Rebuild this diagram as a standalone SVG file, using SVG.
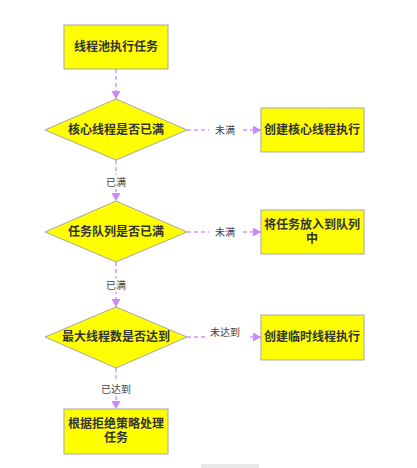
<svg xmlns="http://www.w3.org/2000/svg" width="417" height="468" viewBox="0 0 417 468">
<style>
.box{fill:#ffff00;stroke:#a6a6a6;stroke-width:1}
.t{font-family:"Liberation Sans","Noto Sans CJK SC",sans-serif;font-size:12px;font-weight:bold;fill:#333;text-anchor:middle;dominant-baseline:central}
.lbl{font-family:"Liberation Sans","Noto Sans CJK SC",sans-serif;font-size:10px;fill:#444;text-anchor:middle;dominant-baseline:central}
.e{stroke:#cc99ff;stroke-width:1.5;stroke-dasharray:4 3;fill:none}
.lb{fill:#fff}
</style>
<defs>
<marker id="a" viewBox="0 0 10 10" refX="10" refY="5" markerWidth="8" markerHeight="9" orient="auto" markerUnits="userSpaceOnUse" preserveAspectRatio="none">
<path d="M0,0 L10,5 L0,10 z" fill="#cc88ff"/>
</marker>
</defs>
<rect width="417" height="468" fill="#fff"/>
<g id="connectors">
<path class="e" d="M116,69 V99" marker-end="url(#a)"/>
<path class="e" d="M187,130 H261" marker-end="url(#a)"/>
<path class="e" d="M116,160 V201" marker-end="url(#a)"/>
<path class="e" d="M187,232 H261" marker-end="url(#a)"/>
<path class="e" d="M116,262 V307" marker-end="url(#a)"/>
<path class="e" d="M187,337 H261" marker-end="url(#a)"/>
<path class="e" d="M116,368 V409" marker-end="url(#a)"/>
<rect class="lb" x="209" y="123" width="33" height="14"/>
<text class="lbl" x="225" y="130">未满</text>
<rect class="lb" x="104" y="175" width="24" height="14"/>
<text class="lbl" x="116" y="182">已满</text>
<rect class="lb" x="209" y="225" width="33" height="14"/>
<text class="lbl" x="225" y="232">未满</text>
<rect class="lb" x="104" y="278" width="24" height="14"/>
<text class="lbl" x="116" y="285">已满</text>
<rect class="lb" x="205" y="324" width="42" height="16"/>
<text class="lbl" x="225" y="332">未达到</text>
<rect class="lb" x="99" y="382" width="34" height="14"/>
<text class="lbl" x="116" y="389">已达到</text>
</g>
<g id="start">
<rect class="box" x="64" y="25" width="104" height="44"/>
<text class="t" x="116" y="47">线程池执行任务</text>
</g>
<g id="d1">
<polygon class="box" points="116,99 187,130 116,160 45,130"/>
<text class="t" x="116" y="130">核心线程是否已满</text>
</g>
<g id="b2">
<rect class="box" x="261" y="108" width="103" height="44"/>
<text class="t" x="312" y="130">创建核心线程执行</text>
</g>
<g id="d2">
<polygon class="box" points="116,201 187,232 116,262 45,232"/>
<text class="t" x="116" y="232">任务队列是否已满</text>
</g>
<g id="b3">
<rect class="box" x="261" y="210" width="103" height="44"/>
<text class="t" x="312" y="225">将任务放入到队列</text>
<text class="t" x="312" y="239">中</text>
</g>
<g id="d3">
<polygon class="box" points="116,307 187,337 116,368 45,337"/>
<text class="t" x="116" y="337">最大线程数是否达到</text>
</g>
<g id="b4">
<rect class="box" x="261" y="315" width="103" height="45"/>
<text class="t" x="312" y="337">创建临时线程执行</text>
</g>
<g id="b5">
<rect class="box" x="64" y="409" width="104" height="45"/>
<text class="t" x="116" y="424">根据拒绝策略处理</text>
<text class="t" x="116" y="438">任务</text>
</g>
<rect x="201" y="464" width="58" height="4" fill="#e8e8e8"/>
</svg>
